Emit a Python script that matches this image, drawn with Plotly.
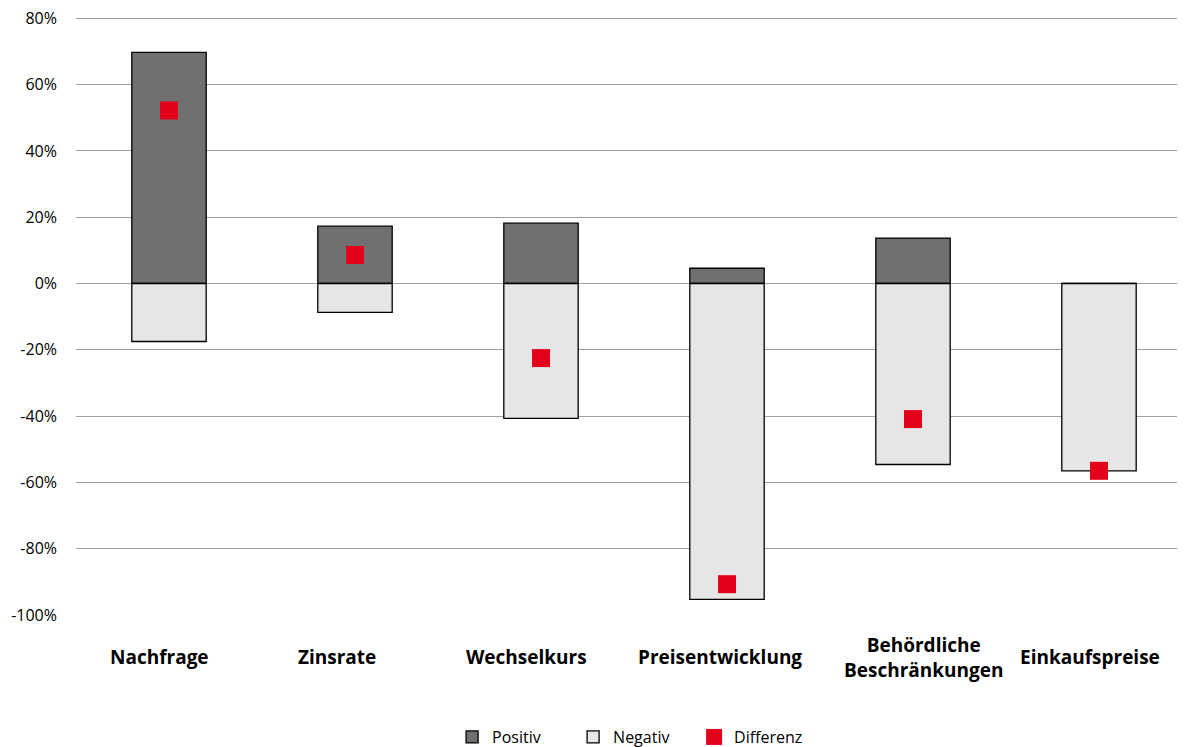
import plotly.graph_objects as go

categories = ["Nachfrage", "Zinsrate", "Wechselkurs", "Preisentwicklung",
              "Behördliche Beschränkungen", "Einkaufspreise"]
cat_labels = ["Nachfrage", "Zinsrate", "Wechselkurs", "Preisentwicklung",
              "Behördliche<br>Beschränkungen", "Einkaufspreise"]
positiv = [69.7, 17.3, 18.2, 4.6, 13.7, 0.0]
negativ = [-17.5, -8.7, -40.7, -95.3, -54.6, -56.5]
differenz = [52.2, 8.6, -22.5, -90.7, -40.9, -56.5]
yticks = [-100, -80, -60, -40, -20, 0, 20, 40, 60, 80]
yticktext = ["-100%", "-80%", "-60%", "-40%", "-20%", "0%", "20%", "40%", "60%", "80%"]

# horizontal placement tweak of category labels (style, px)
label_dx = [-10, -18, -15, -7, 11, -9]

FONT = "Open Sans"

fig = go.Figure()
fig.add_trace(go.Bar(x=categories, y=positiv, name="Positiv", width=0.4,
                     marker=dict(color="#707070", line=dict(color="#000000", width=1.3))))
fig.add_trace(go.Bar(x=categories, y=negativ, name="Negativ", width=0.4,
                     marker=dict(color="#e6e6e6", line=dict(color="#000000", width=1.3))))
fig.add_trace(go.Scatter(x=categories, y=differenz, name="Differenz", mode="markers",
                         marker=dict(symbol="square", size=18, color="#e2001a")))

for c, lab, dx in zip(categories, cat_labels, label_dx):
    fig.add_annotation(x=c, y=-0.07, xref="x", yref="paper", text="<b>" + lab + "</b>",
                       showarrow=False, yanchor="middle", xanchor="center", xshift=dx,
                       font=dict(family=FONT, size=19, color="#000000"))

fig.update_layout(
    width=1190, height=760,
    barmode="relative",
    plot_bgcolor="white", paper_bgcolor="white",
    margin=dict(l=68, r=6, t=7, b=153),
    font=dict(family=FONT, size=16, color="#000000"),
    showlegend=True,
    legend=dict(orientation="h", x=0.337, xanchor="left", y=-0.2317, yanchor="bottom",
                font=dict(family=FONT, size=16, color="#000000"), entrywidth=76,
                traceorder="normal"),
    xaxis=dict(showticklabels=False, showgrid=False, zeroline=False, showline=False,
               ticks="", automargin=False),
    yaxis=dict(range=[-100, 81], tickmode="array", tickvals=yticks, ticktext=yticktext,
               showgrid=True, gridcolor="#a0a0a0", gridwidth=1, zeroline=True,
               zerolinecolor="#a0a0a0", zerolinewidth=1, showline=False, ticks="",
               ticklabelstandoff=18, ticklabeloverflow="allow", automargin=False,
               tickfont=dict(family=FONT, size=16, color="#000000")),
)

fig.write_html("out.html")
